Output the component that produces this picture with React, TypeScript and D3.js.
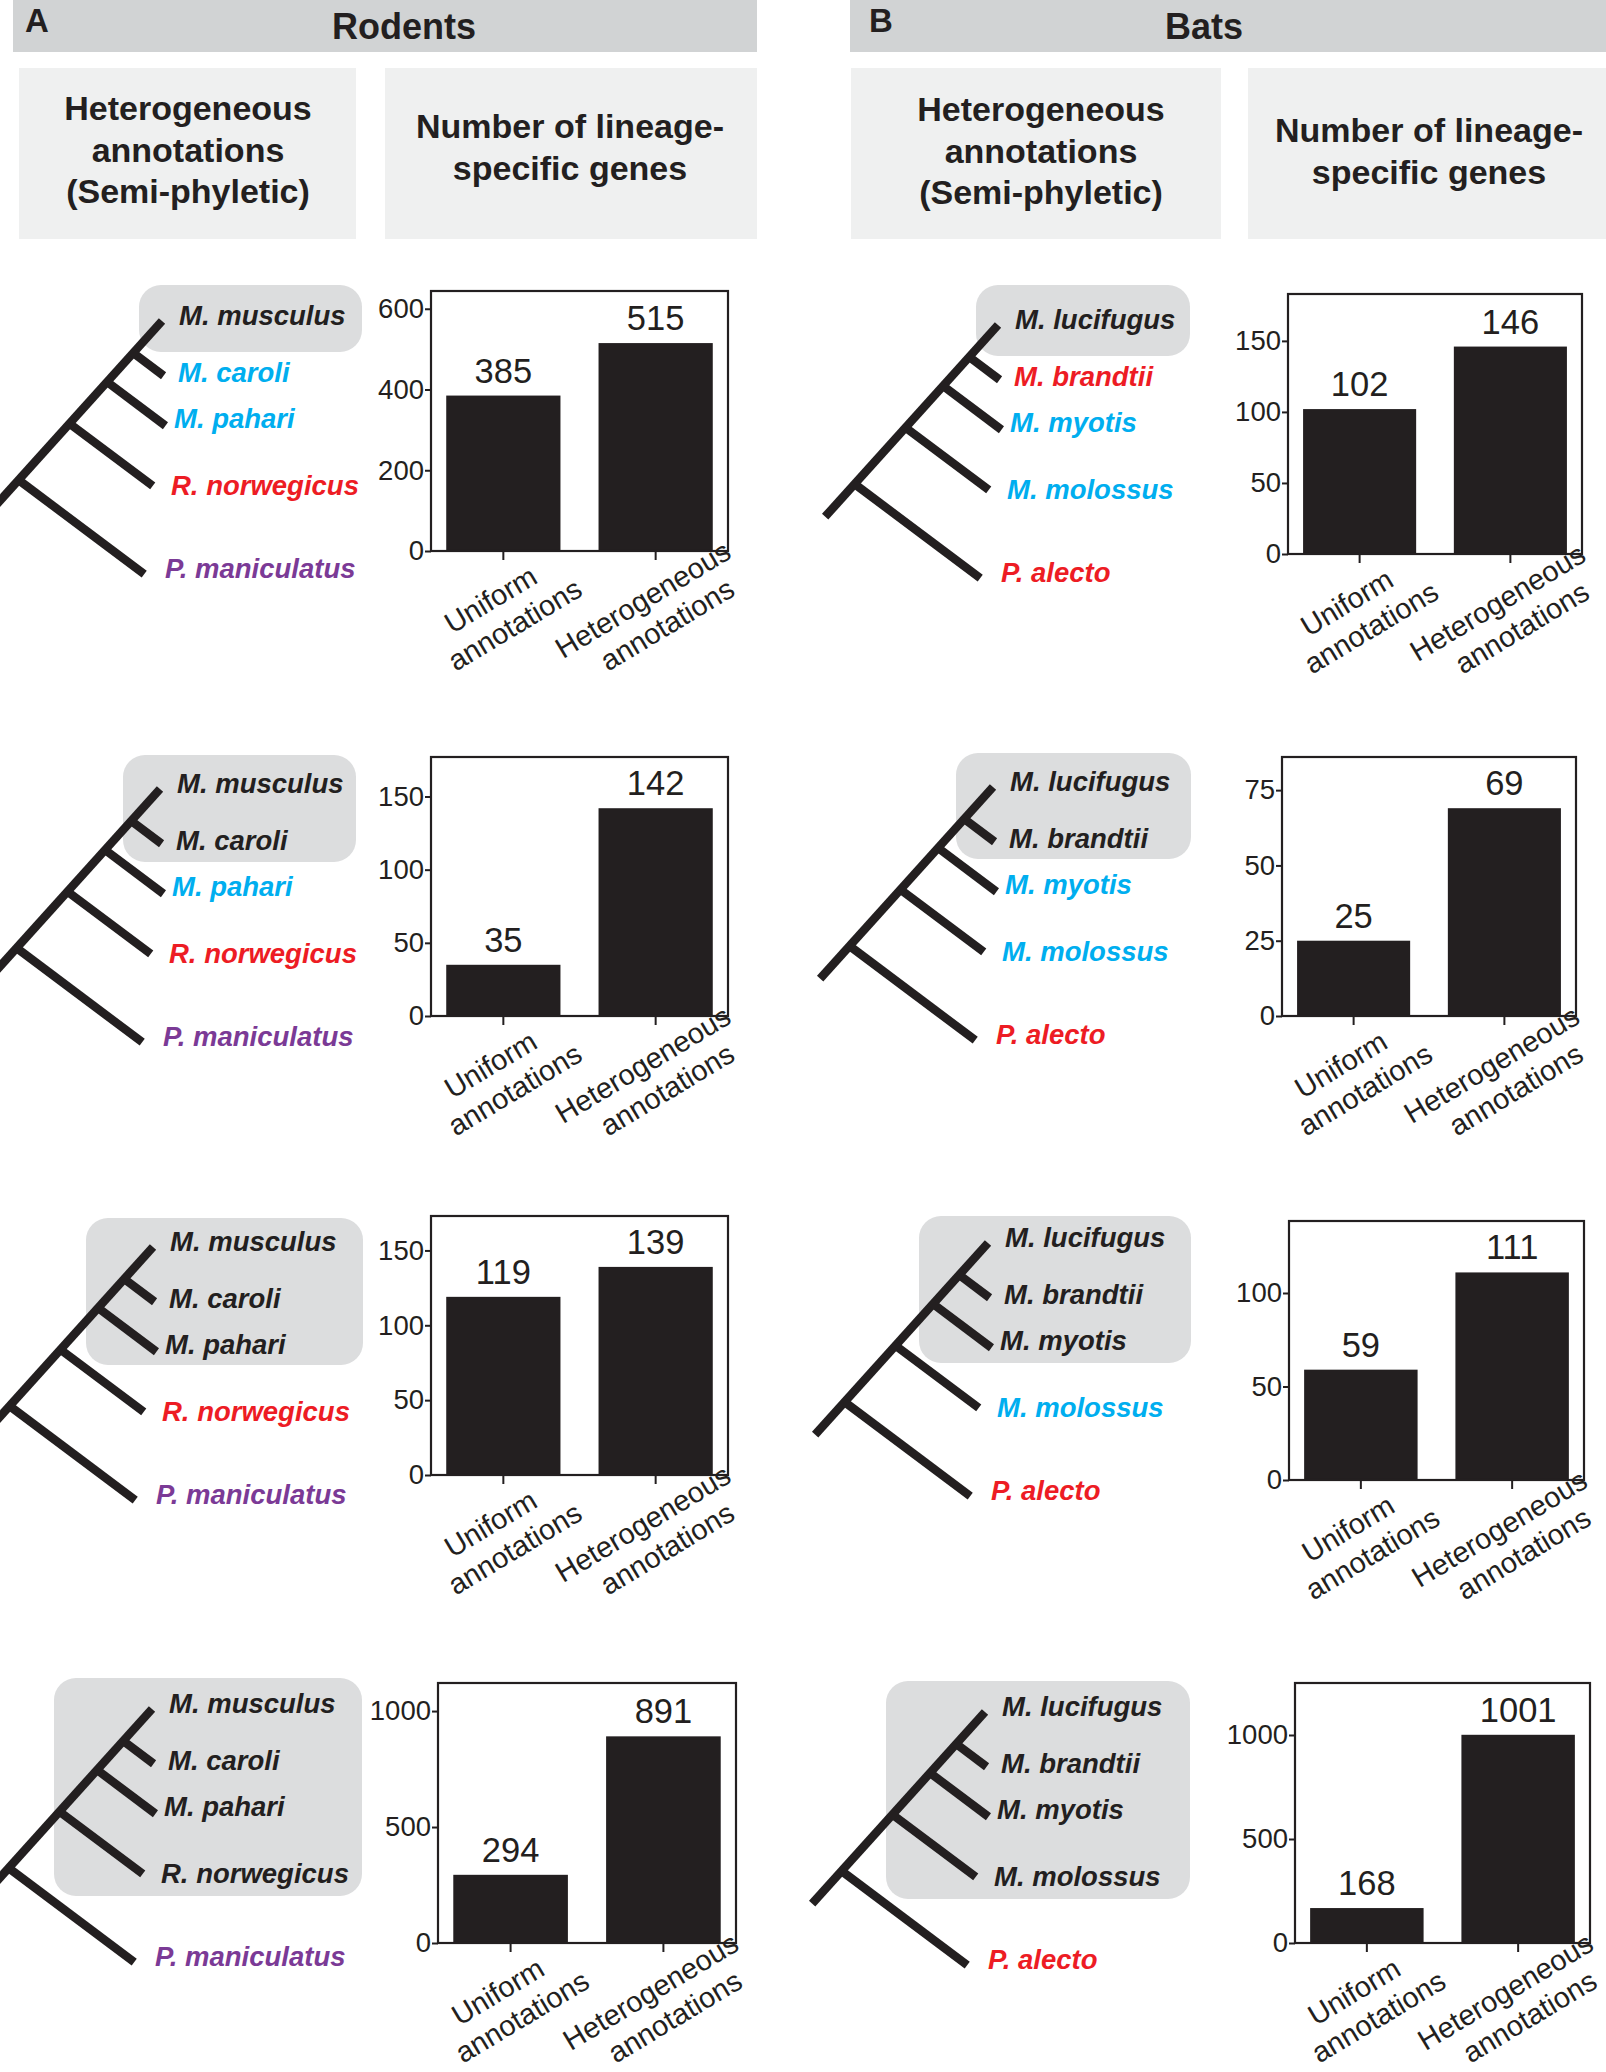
import React, { useRef, useEffect } from "react";
import * as d3 from "d3";

// bar categories
const categories = ["Uniform", "Heterogeneous"];
const categoryLines = [
  ["Uniform", "annotations"],
  ["Heterogeneous", "annotations"],
];

// rodents
const rodentSpecies = ["M. musculus", "M. caroli", "M. pahari", "R. norwegicus", "P. maniculatus"];
const rodentColors = ["#231f20", "#00aeef", "#00aeef", "#ed1c24", "#7b3a96"];
const rodentUniform = [385, 35, 119, 294];
const rodentHetero = [515, 142, 139, 891];
const rodentTicks = [[0, 200, 400, 600], [0, 50, 100, 150], [0, 50, 100, 150], [0, 500, 1000]];
const rodentMax = [644, 177, 173, 1121];

// bats
const batSpecies = ["M. lucifugus", "M. brandtii", "M. myotis", "M. molossus", "P. alecto"];
const batColors = ["#231f20", "#ed1c24", "#00aeef", "#00aeef", "#ed1c24"];
const batUniform = [102, 25, 59, 168];
const batHetero = [146, 69, 111, 1001];
const batTicks = [[0, 50, 100, 150], [0, 25, 50, 75], [0, 50, 100], [0, 500, 1000]];
const batMax = [183, 86, 138.5, 1250];

const FONT = "'Liberation Sans', Arial, Helvetica, sans-serif";
const INK = "#231f20";

// layout per row: tree tip, highlight box [x0,y0,x1,y1], chart frame [left,top,right,bottom]
const rodentLayout = [
  { tip: [162, 321], hl: [139, 285, 362, 352], frame: [431, 291, 728, 551] },
  { tip: [160, 789], hl: [123, 755, 356, 862], frame: [431, 757, 728, 1016] },
  { tip: [153, 1247], hl: [86, 1218, 363, 1365], frame: [431, 1216, 728, 1475] },
  { tip: [152, 1709], hl: [54, 1678, 362, 1896], frame: [438, 1683, 736, 1943] },
];
const batLayout = [
  { tip: [998, 325], hl: [976, 285, 1190, 356], frame: [1288, 294, 1582, 554] },
  { tip: [993, 787], hl: [956, 753, 1191, 859], frame: [1282, 757, 1576, 1016] },
  { tip: [988, 1243], hl: [919, 1216, 1191, 1363], frame: [1289, 1221, 1584, 1480] },
  { tip: [985, 1712], hl: [886, 1681, 1190, 1899], frame: [1295, 1683, 1590, 1943] },
];

// tree shape (relative to top tip)
const MAIN_DIR = [-0.67, 0.743];
const BRANCH_DIR = [0.8, 0.6];
const nodeDist = [43, 82, 138, 214];
const branchLen = [38, 73, 104, 157];
const ROOT_DIST = 258;
const labelOff = [[17, 4], [16, 61], [12, 107], [9, 174], [3, 257]];

const App = () => {
  const svgRef = useRef<SVGSVGElement>(null);

  useEffect(() => {
    const svg = d3.select(svgRef.current);
    svg.selectAll("*").remove();

    // ---- headers ----
    const headers = [
      { letter: "A", title: "Rodents", bar: [13, 0, 757, 52], lx: 25, tx: 404,
        boxes: [[19, 68, 356, 239], [385, 68, 757, 239]],
        left: { x: 188, ys: [120, 162, 203] }, right: { x: 570, ys: [138, 180] } },
      { letter: "B", title: "Bats", bar: [850, 0, 1606, 52], lx: 869, tx: 1204,
        boxes: [[851, 68, 1221, 239], [1248, 68, 1606, 239]],
        left: { x: 1041, ys: [121, 163, 204] }, right: { x: 1429, ys: [142, 184] } },
    ];
    const leftText = ["Heterogeneous", "annotations", "(Semi-phyletic)"];
    const rightText = ["Number of lineage-", "specific genes"];

    headers.forEach(h => {
      svg.append("rect")
        .attr("x", h.bar[0]).attr("y", h.bar[1])
        .attr("width", h.bar[2] - h.bar[0]).attr("height", h.bar[3] - h.bar[1])
        .attr("fill", "#d1d3d4");
      svg.append("text").attr("x", h.lx).attr("y", 32)
        .attr("font-family", FONT).attr("font-weight", "bold").attr("font-size", 33)
        .attr("fill", INK).text(h.letter);
      svg.append("text").attr("x", h.tx).attr("y", 39).attr("text-anchor", "middle")
        .attr("font-family", FONT).attr("font-weight", "bold").attr("font-size", 36)
        .attr("fill", INK).text(h.title);
      h.boxes.forEach(b => {
        svg.append("rect")
          .attr("x", b[0]).attr("y", b[1])
          .attr("width", b[2] - b[0]).attr("height", b[3] - b[1])
          .attr("fill", "#eff0f0");
      });
      leftText.forEach((t, i) => {
        svg.append("text").attr("x", h.left.x).attr("y", h.left.ys[i]).attr("text-anchor", "middle")
          .attr("font-family", FONT).attr("font-weight", "bold").attr("font-size", 34)
          .attr("fill", INK).text(t);
      });
      rightText.forEach((t, i) => {
        svg.append("text").attr("x", h.right.x).attr("y", h.right.ys[i]).attr("text-anchor", "middle")
          .attr("font-family", FONT).attr("font-weight", "bold").attr("font-size", 34)
          .attr("fill", INK).text(t);
      });
    });

    // ---- panels ----
    const columns = [
      { species: rodentSpecies, colors: rodentColors, uni: rodentUniform, het: rodentHetero,
        ticks: rodentTicks, max: rodentMax, layout: rodentLayout },
      { species: batSpecies, colors: batColors, uni: batUniform, het: batHetero,
        ticks: batTicks, max: batMax, layout: batLayout },
    ];

    const line = d3.line();

    columns.forEach(col => {
      col.layout.forEach((L, row) => {
        const g = svg.append("g");
        const nHighlight = row + 1;

        // highlight box
        const [hx0, hy0, hx1, hy1] = L.hl;
        g.append("rect")
          .attr("x", hx0).attr("y", hy0)
          .attr("width", hx1 - hx0).attr("height", hy1 - hy0)
          .attr("rx", 22).attr("fill", "#dcddde");

        // tree
        const [tx, ty] = L.tip;
        const segs: [number, number][][] = [
          [[tx, ty], [tx + MAIN_DIR[0] * ROOT_DIST, ty + MAIN_DIR[1] * ROOT_DIST]],
        ];
        nodeDist.forEach((d, i) => {
          const n: [number, number] = [tx + MAIN_DIR[0] * d, ty + MAIN_DIR[1] * d];
          segs.push([n, [n[0] + BRANCH_DIR[0] * branchLen[i], n[1] + BRANCH_DIR[1] * branchLen[i]]]);
        });
        g.selectAll("path.tree").data(segs).join("path")
          .attr("class", "tree")
          .attr("d", d => line(d))
          .attr("stroke", INK).attr("stroke-width", 8.5).attr("fill", "none");

        g.selectAll("text.sp").data(col.species).join("text")
          .attr("class", "sp")
          .attr("x", (d, i) => tx + labelOff[i][0])
          .attr("y", (d, i) => ty + labelOff[i][1])
          .attr("font-family", FONT).attr("font-weight", "bold").attr("font-style", "italic")
          .attr("font-size", 27.5)
          .attr("fill", (d, i) => (i < nHighlight ? INK : col.colors[i]))
          .text(d => d);

        // bar chart
        const [fl, ft, fr, fb] = L.frame;
        const x = d3.scaleBand().domain(categories).range([fl, fr]).paddingInner(0.25).paddingOuter(0.1);
        const y = d3.scaleLinear().domain([0, col.max[row]]).range([fb, ft]);
        const vals = [col.uni[row], col.het[row]];

        g.selectAll("rect.bar").data(vals).join("rect")
          .attr("class", "bar")
          .attr("x", (d, i) => x(categories[i])!)
          .attr("y", d => y(d))
          .attr("width", x.bandwidth())
          .attr("height", d => y(0) - y(d))
          .attr("fill", INK);

        g.selectAll("text.val").data(vals).join("text")
          .attr("class", "val")
          .attr("x", (d, i) => x(categories[i])! + x.bandwidth() / 2)
          .attr("y", d => y(d) - 13)
          .attr("text-anchor", "middle")
          .attr("font-family", FONT).attr("font-size", 34.5).attr("fill", INK)
          .text(d => d);

        g.append("rect")
          .attr("x", fl).attr("y", ft).attr("width", fr - fl).attr("height", fb - ft)
          .attr("fill", "none").attr("stroke", INK).attr("stroke-width", 2.2);

        const yAxis = g.append("g").attr("transform", `translate(${fl},0)`)
          .call(d3.axisLeft(y).tickValues(col.ticks[row]).tickSize(6).tickSizeOuter(0).tickPadding(1).tickFormat(d3.format("d")));
        yAxis.select(".domain").remove();
        yAxis.selectAll("line").attr("stroke", INK).attr("stroke-width", 2);
        yAxis.selectAll("text").attr("font-family", FONT).attr("font-size", 27.5).attr("fill", INK);

        const xAxis = g.append("g").attr("transform", `translate(0,${fb})`)
          .call(d3.axisBottom(x).tickSize(9).tickSizeOuter(0).tickFormat(() => ""));
        xAxis.select(".domain").remove();
        xAxis.selectAll("line").attr("stroke", INK).attr("stroke-width", 2);

        categories.forEach((c, i) => {
          const lg = g.append("g")
            .attr("transform", `translate(${x(c)! + x.bandwidth() / 2},${fb}) rotate(-31)`);
          lg.append("text").attr("x", -36).attr("y", 45).attr("text-anchor", "middle")
            .attr("font-family", FONT).attr("font-size", 29).attr("fill", INK)
            .text(categoryLines[i][0]);
          lg.append("text").attr("x", -28).attr("y", 79).attr("text-anchor", "middle")
            .attr("font-family", FONT).attr("font-size", 29).attr("fill", INK)
            .text(categoryLines[i][1]);
        });
      });
    });
  }, []);

  return (
    <svg
      ref={svgRef}
      width={1606}
      height={2072}
      style={{ position: "absolute", left: 0, top: 0, background: "#fff" }}
    ></svg>
  );
};

export default App;
